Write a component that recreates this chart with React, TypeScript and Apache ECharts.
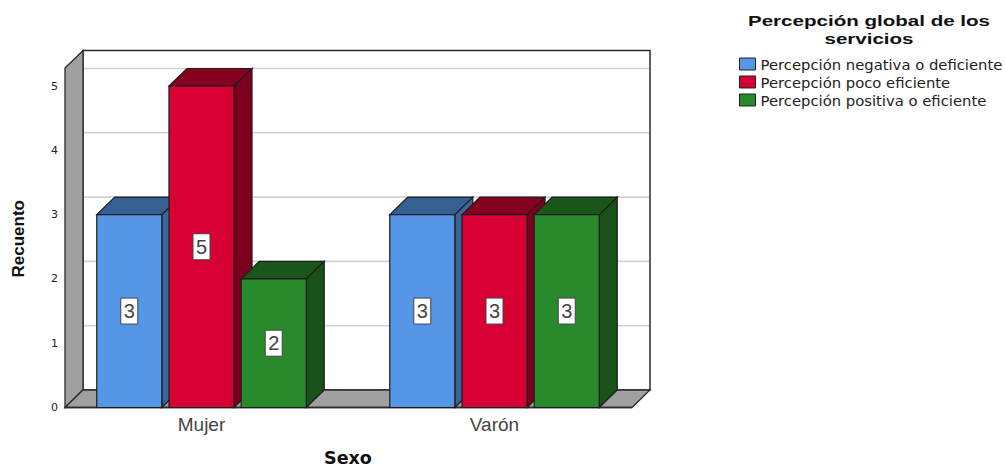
import React, { useEffect, useRef } from "react";
import * as echarts from "echarts";

const categories = ["Mujer", "Varón"];
const legendTitle = ["Percepción global de los", "servicios"];
const seriesNames = [
  "Percepción negativa o deficiente",
  "Percepción poco eficiente",
  "Percepción positiva o eficiente",
];
const negativa = [3, 3];
const pocoEficiente = [5, 3];
const positiva = [2, 3];
const yTicks = [0, 1, 2, 3, 4, 5];

const seriesValues = [negativa, pocoEficiente, positiva];
const frontColors = ["#5596e6", "#d60032", "#288a2a"];
const topColors = ["#365f92", "#85001f", "#1a5519"];
const sideColors = ["#3a669c", "#7c001e", "#195219"];

const LEFT = 55;
const RIGHT_EDGE = 641;
const TOP = 68;
const BOTTOM_Y = 407.5;
const DX = 18;
const DY = 17.5;
const EDGE = "#2b2b2b";

function frameItem(params: any, api: any) {
  const y0 = api.coord([0, 0])[1];
  const yTop = api.coord([0, 5.28])[1];
  const xl = LEFT + 10;
  const xr = RIGHT_EDGE - 9;
  const children: any[] = [
    { type: "rect", shape: { x: xl + DX, y: yTop - DY, width: xr - xl, height: y0 - yTop }, style: { fill: "#fff", stroke: EDGE, lineWidth: 1.5 } },
    { type: "polygon", shape: { points: [[xl, yTop], [xl + DX, yTop - DY], [xl + DX, y0 - DY], [xl, y0]] }, style: { fill: "#a0a0a0", stroke: EDGE, lineWidth: 1.3 } },
    { type: "polygon", shape: { points: [[xl, y0], [xl + DX, y0 - DY], [xr + DX, y0 - DY], [xr, y0]] }, style: { fill: "#a0a0a0", stroke: EDGE, lineWidth: 1.3 } },
  ];
  yTicks.slice(1).forEach((t) => {
    const y = api.coord([0, t])[1] - DY;
    children.push({ type: "line", shape: { x1: xl + DX + 1, y1: y, x2: xr + DX - 1, y2: y }, style: { stroke: "#d2d2d2", lineWidth: 1.6 } });
  });
  children.push({ type: "line", shape: { x1: xl, y1: y0, x2: xr, y2: y0 }, style: { stroke: EDGE, lineWidth: 1.6 } });
  return { type: "group", children };
}

function barItem(si: number) {
  return (params: any, api: any) => {
    const c = api.value(0);
    const v = api.value(1);
    const [cx0, y0] = api.coord([c, 0]);
    const yv = api.coord([c, v])[1];
    const band = api.size([1, 0])[0];
    const w = band * 0.222;
    const cx = cx0 + (si - 1) * band * 0.2465;
    const x1 = cx - w / 2;
    const x2 = cx + w / 2;
    const stroke = { stroke: "#1d1d1d", lineWidth: 1.2 };
    const my = (y0 + yv) / 2;
    return {
      type: "group",
      children: [
        { type: "polygon", shape: { points: [[x2, yv], [x2 + DX, yv - DY], [x2 + DX, y0 - DY], [x2, y0]] }, style: { fill: sideColors[si], ...stroke } },
        { type: "polygon", shape: { points: [[x1, yv], [x1 + DX, yv - DY], [x2 + DX, yv - DY], [x2, yv]] }, style: { fill: topColors[si], ...stroke } },
        { type: "rect", shape: { x: x1, y: yv, width: w, height: y0 - yv }, style: { fill: frontColors[si], ...stroke } },
        { type: "rect", shape: { x: cx - 8.5, y: my - 13, width: 17, height: 26 }, style: { fill: "#fff", stroke: "#444", lineWidth: 1 } },
        { type: "text", x: cx, y: my, style: { text: String(v), fill: "#444", font: "20px 'Liberation Sans'", align: "center", verticalAlign: "middle" } },
      ],
    };
  };
}

export default function App() {
  const ref = useRef<HTMLDivElement>(null);
  useEffect(() => {
    const chart = echarts.init(ref.current!, undefined, { renderer: "svg" });
    chart.setOption({
      animation: false,
      backgroundColor: "#fff",
      graphic: legendTitle.map((text, i) => ({
        type: "text",
        x: 869,
        y: 21 + i * 18,
        scaleX: 1.37,
        style: { text, fill: "#111", font: "bold 15px 'Liberation Sans'", align: "center", verticalAlign: "middle" },
      })),
      legend: {
        orient: "vertical",
        left: 739,
        top: 56.5,
        padding: 0,
        itemWidth: 16,
        itemHeight: 12,
        itemGap: 3,
        icon: "rect",
        data: seriesNames,
        selectedMode: false,
        textStyle: { fontFamily: "DejaVu Sans", fontSize: 14.8, color: "#222" },
        itemStyle: { borderColor: "#222", borderWidth: 1 },
      },
      grid: { left: LEFT, top: TOP, width: RIGHT_EDGE - LEFT, height: BOTTOM_Y - TOP, outerBoundsMode: "none", containLabel: false },
      xAxis: {
        type: "category",
        data: categories,
        name: "Sexo",
        nameLocation: "middle",
        nameGap: 43,
        nameTextStyle: { fontFamily: "DejaVu Sans", fontWeight: "bold", fontSize: 17.5, lineHeight: 14, color: "#111" },
        axisLine: { show: false },
        axisTick: { show: false },
        axisLabel: { margin: 7, fontFamily: "Liberation Sans", fontSize: 19, color: "#444" },
      },
      yAxis: {
        type: "value",
        min: 0,
        max: 5.28,
        interval: 1,
        name: "Recuento",
        nameLocation: "middle",
        nameGap: 28,
        nameTextStyle: { fontFamily: "Liberation Sans", fontWeight: "bold", fontSize: 17, color: "#111", padding: [0, 0, 0, -2] },
        splitLine: { show: false },
        axisLine: { show: false },
        axisTick: { show: false },
        axisLabel: { margin: -3, fontFamily: "DejaVu Sans", fontSize: 11, color: "#222", customValues: yTicks },
      },
      series: [
        {
          type: "custom",
          name: "frame",
          silent: true,
          clip: false,
          renderItem: frameItem,
          encode: { x: 0, y: 1 },
          data: [[0, 0]],
          z: 1,
        },
        ...seriesNames.map((name, si) => ({
          type: "custom",
          name,
          silent: true,
          clip: false,
          renderItem: barItem(si),
          itemStyle: { color: frontColors[si] },
          encode: { x: 0, y: 1 },
          data: seriesValues[si].map((v, i) => [i, v]),
          z: 2 + si,
        })),
      ],
    });
    return () => chart.dispose();
  }, []);
  return <div ref={ref} style={{ position: "absolute", left: 0, top: 0, width: 1005, height: 466 }} />;
}
